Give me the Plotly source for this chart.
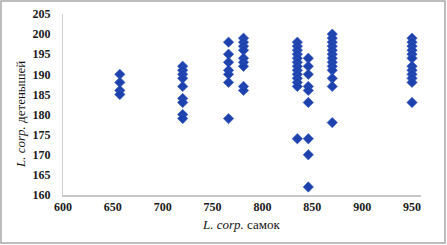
import plotly.graph_objects as go

# Data (x: L. corp. самок, y: L. corp. детенышей)
col_x = [657, 720, 766, 781, 835, 846, 870, 950]
col_y = [
    [190, 188, 186, 185],
    [192, 191, 190, 189, 187, 184, 183, 180, 179],
    [198, 195, 193, 191, 190, 188, 179],
    [199, 198, 197, 196, 194, 193, 192, 187, 186],
    [198, 197, 196, 195, 194, 193, 192, 191, 190, 189, 188, 187, 174],
    [194, 192, 190, 187, 186, 183, 174, 170, 162],
    [200, 199, 198, 197, 196, 195, 194, 193, 192, 191, 189, 187, 178],
    [199, 198, 197, 196, 195, 194, 192, 191, 190, 189, 188, 183],
]
x_ticks = [600, 650, 700, 750, 800, 850, 900, 950]
y_ticks = [160, 165, 170, 175, 180, 185, 190, 195, 200, 205]
x_title = "<i>L. corp.</i> самок"
y_title = "<i>L. corp.</i> детенышей"

xs, ys = [], []
for cx, vals in zip(col_x, col_y):
    for v in vals:
        xs.append(cx)
        ys.append(v)

W, H = 447, 245
ml, mr, mt, mb = 63, 26, 14, 50
pw, ph = W - ml - mr, H - mt - mb

def px_to_paper_x(p):
    return (p - ml) / pw

def px_to_paper_y(p):
    return 1 - (p - mt) / ph

fig = go.Figure()
fig.add_trace(go.Scatter(
    x=xs, y=ys, mode="markers",
    marker=dict(symbol="diamond", size=8, color="#1d42ad",
                line=dict(width=0.6, color="#3a5cc0")),
    showlegend=False, hoverinfo="skip"))

tickfont = dict(family="Liberation Serif, Times New Roman, serif", size=12,
                color="#1a1a1a")

fig.update_layout(
    width=W, height=H,
    margin=dict(l=ml, r=mr, t=mt, b=mb, autoexpand=False),
    paper_bgcolor="white", plot_bgcolor="white",
    font=dict(family="Liberation Serif, Times New Roman, serif", color="#111111"),
    xaxis=dict(range=[600, 959], tickmode="array", tickvals=x_ticks,
               ticktext=["<b>%d</b>" % t for t in x_ticks], showgrid=False, zeroline=False,
               showline=True, linecolor="#c8c8c8", linewidth=1.5,
               ticks="", tickfont=tickfont, ticklabelstandoff=0,
               automargin=False),
    yaxis=dict(range=[160, 205], tickmode="array", tickvals=y_ticks,
               ticktext=["<b>%d</b>" % t for t in y_ticks], showgrid=False, zeroline=False,
               showline=True, linecolor="#d0d0d0", linewidth=1,
               ticks="", tickfont=tickfont, ticklabelstandoff=9,
               automargin=False),
)

fig.add_annotation(text=x_title, xref="paper", yref="paper",
                   x=px_to_paper_x(241), y=px_to_paper_y(224),
                   showarrow=False, xanchor="center", yanchor="middle",
                   font=dict(size=13, color="#111111"))
fig.add_annotation(text=y_title, xref="paper", yref="paper",
                   x=px_to_paper_x(20), y=px_to_paper_y(115),
                   showarrow=False, xanchor="center", yanchor="middle",
                   textangle=-90, font=dict(size=13, color="#111111"))

# outer frame around the whole picture
fig.add_shape(type="rect", xref="paper", yref="paper",
              x0=px_to_paper_x(1), x1=px_to_paper_x(W - 2),
              y0=px_to_paper_y(H - 2), y1=px_to_paper_y(1),
              line=dict(color="#a8a8a8", width=1.5), layer="above")

fig.write_html("out.html", config={"displayModeBar": False},
               post_script="document.body.style.margin='0';document.body.style.padding='0';")
